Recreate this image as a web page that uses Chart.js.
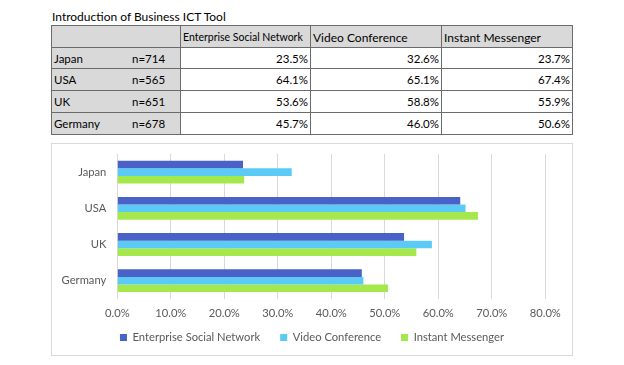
<!DOCTYPE html>
<html>
<head>
<meta charset="utf-8">
<script src="https://cdn.jsdelivr.net/npm/chart.js@4/dist/chart.umd.min.js"></script>
<style>
  html, body { margin:0; padding:0; background:#fff; width:624px; height:365px; overflow:hidden; font-family: Lato, "Open Sans", sans-serif; }
  #title { position:absolute; left:52px; top:9px; font-size:12px; color:#000; white-space:nowrap; }
  #tbl { position:absolute; left:51px; top:25px; display:grid; grid-template-columns:128px 129px 130px 130px; grid-template-rows:21px 20px 21px 21px 21px; gap:1px; padding:1px; background:#6b6b6b; }
  .cell { background:#fff; font-size:11.5px; color:#000; position:relative; line-height:21px; white-space:nowrap; overflow:hidden; }
  .gray { background:#d9d9d9; }
  .num { text-align:right; padding-right:2px; }
  .hdr { padding-left:2px; font-size:12px; line-height:23px; }
  .hdr.small { font-size:10.5px; }
  .cty { position:absolute; left:2px; }
  .nn { position:absolute; left:80px; }
  #frame { position:absolute; left:51px; top:143px; width:520px; height:211px; border:1px solid #d9d9d9; }
  #c { position:absolute; left:52px; top:143px; }
</style>
</head>
<body>
<div id="title">Introduction of Business ICT Tool</div>
<div id="tbl"></div>
<div id="frame"></div>
<canvas id="c" width="520" height="210"></canvas>
<script>
const categories = ["Japan", "USA", "UK", "Germany"];
const sampleSizes = ["n=714", "n=565", "n=651", "n=678"];
const seriesNames = ["Enterprise Social Network", "Video Conference", "Instant Messenger"];
const enterpriseSocialNetwork = [23.5, 64.1, 53.6, 45.7];
const videoConference = [32.6, 65.1, 58.8, 46.0];
const instantMessenger = [23.7, 67.4, 55.9, 50.6];
const seriesColors = ["#4a61c8", "#5bcbf5", "#a5e84c"];

const tbl = document.getElementById('tbl');
function cell(cls, html) { const d = document.createElement('div'); d.className = 'cell ' + cls; d.innerHTML = html; tbl.appendChild(d); }
cell('gray', '');
seriesNames.forEach((n, i) => cell('gray hdr' + (i === 0 ? ' small' : ''), n));
const seriesData = [enterpriseSocialNetwork, videoConference, instantMessenger];
categories.forEach((c, i) => {
  cell('gray', '<span class="cty">' + c + '</span><span class="nn">' + sampleSizes[i] + '</span>');
  seriesData.forEach(s => cell('num', s[i].toFixed(1) + '%'));
});

const font = { family: 'Lato, "Open Sans", sans-serif', size: 11.2 };
const textColor = '#595959';
new Chart(document.getElementById('c'), {
  type: 'bar',
  data: {
    labels: categories,
    datasets: seriesNames.map((n, i) => ({ label: n, data: seriesData[i], backgroundColor: seriesColors[i], borderWidth: 0 }))
  },
  options: {
    indexAxis: 'y',
    responsive: false,
    animation: false,
    datasets: { bar: { categoryPercentage: 0.63, barPercentage: 1 } },
    layout: { padding: { left: 0, right: 0, top: 11, bottom: 0 } },
    scales: {
      x: {
        min: 0, max: 80,
        ticks: { stepSize: 10, callback: v => v.toFixed(1) + '%', color: textColor, font: font, mirror: true, padding: -21 },
        grid: { color: '#d9d9d9', drawTicks: false },
        border: { display: false },
        afterFit: s => { s.height = 13; s.paddingLeft = 0; s.paddingRight = 0; }
      },
      y: {
        ticks: { color: textColor, font: font, padding: 11 },
        grid: { display: false, drawTicks: false },
        border: { display: false },
        afterFit: s => { s.width = 65.3; s.paddingTop = 0; s.paddingBottom = 0; }
      },
      yRight: {
        type: 'linear', axis: 'y', position: 'right',
        ticks: { display: false },
        grid: { display: false, drawTicks: false },
        border: { display: false },
        afterFit: s => { s.width = 26.7; s.paddingTop = 0; s.paddingBottom = 0; }
      }
    },
    plugins: {
      legend: { position: 'bottom', labels: { boxWidth: 7, boxHeight: 7, padding: 20, color: textColor, font: font } },
      tooltip: { enabled: false }
    }
  }
});
</script>
</body>
</html>
